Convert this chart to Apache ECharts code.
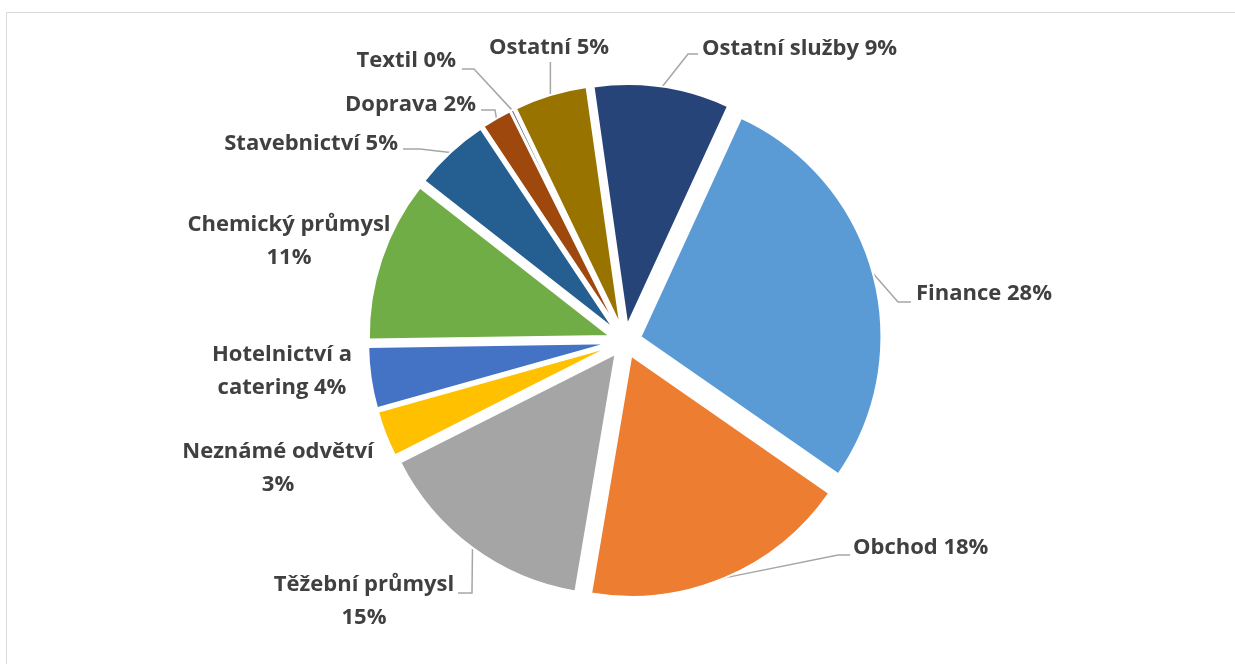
<!DOCTYPE html>
<html><head><meta charset="utf-8">
<script src="https://cdn.jsdelivr.net/npm/echarts@6/dist/echarts.min.js"></script>
<style>html,body{margin:0;padding:0;background:#fff}#c{width:1235px;height:664px}</style>
</head><body><div id="c"></div>
<script>
// ---- data ----
const categories = ['Finance','Obchod','Těžební průmysl','Neznámé odvětví','Hotelnictví a\ncatering','Chemický průmysl','Stavebnictví','Doprava','Textil','Ostatní','Ostatní služby'];
const values = [27.8, 18.0, 14.9, 3.1, 4.1, 10.8, 5.1, 2.0, 0.2, 4.9, 9.1];
const wrapPercent = [false, false, true, true, false, true, false, false, false, false, false];
const colors = ['#5B9BD5','#ED7D31','#A5A5A5','#FFC000','#4472C4','#70AD47','#255E91','#9E480E','#636363','#997300','#264478'];

// ---- label layout (text placement, not data) ----
const EXPLODE = 16;
const LABEL_LAYOUT = [
  {x:916, y:294, align:'left',   line:[[898,302],[911,302]]},
  {x:853, y:548, align:'left',   line:[[838,555],[850,555]]},
  {x:364, y:601, align:'center', line:[[472,593],[458,593]]},
  {x:278, y:468, align:'center', line:null},
  {x:282, y:371, align:'center', line:null},
  {x:289, y:241, align:'center', line:null},
  {x:398, y:144, align:'right',  line:[[420,149],[403,149]]},
  {x:476, y:105, align:'right',  line:[[495,110],[481,110]]},
  {x:456, y:61,  align:'right',  line:[[474,69],[462,69]]},
  {x:549, y:48,  align:'center', line:'vertical', top:62},
  {x:702, y:49,  align:'left',   line:[[688,54],[698,54]]}
];

const pieData = categories.map((c, i) => ({
  name: c, value: values[i], selected: true, itemStyle: {color: colors[i]}
}));
const labelData = categories.map((c, i) => ({
  name: c, value: values[i], labelLine: {show: !!LABEL_LAYOUT[i].line}
}));

const CENTER = [625, 341], RADIUS = 241, START = 65.3;

const chart = echarts.init(document.getElementById('c'), null, {renderer: 'canvas'});
chart.setOption({
  backgroundColor: '#ffffff',
  animation: false,
  graphic: [{
    type: 'rect', silent: true,
    shape: {x: 6.5, y: 12.5, width: 1300, height: 700},
    style: {fill: 'none', stroke: '#d9d9d9', lineWidth: 1}
  }],
  series: [{
    type: 'pie',
    center: CENTER, radius: RADIUS, startAngle: START, clockwise: true,
    selectedMode: 'multiple', selectedOffset: EXPLODE,
    emphasis: {disabled: true},
    itemStyle: {borderWidth: 2, borderColor: '#ffffff'},
    select: {itemStyle: {borderWidth: 2, borderColor: '#ffffff'}},
    label: {show: false}, labelLine: {show: false},
    data: pieData
  }, {
    type: 'pie',
    silent: true,
    center: CENTER, radius: RADIUS, startAngle: START, clockwise: true,
    avoidLabelOverlap: false,
    emphasis: {disabled: true},
    itemStyle: {color: 'rgba(0,0,0,0)'},
    label: {
      show: true, position: 'outside',
      fontFamily: 'Open Sans', fontWeight: 'bold', fontSize: 22, lineHeight: 33,
      color: '#404040',
      formatter: p => p.name + (wrapPercent[p.dataIndex] ? '\n' : ' ') + Math.round(p.percent) + '%'
    },
    labelLine: {show: true, length: 10, length2: 10, lineStyle: {color: '#a6a6a6', width: 1.5}},
    labelLayout: function (p) {
      const L = LABEL_LAYOUT[p.dataIndex];
      const out = {x: L.x, y: L.y, align: L.align, verticalAlign: 'middle'};
      if (L.line && p.labelLinePoints) {
        const a = p.labelLinePoints[0], b = p.labelLinePoints[1];
        const dx = b[0] - a[0], dy = b[1] - a[1];
        const n = Math.hypot(dx, dy) || 1;
        const s = [a[0] + dx / n * EXPLODE, a[1] + dy / n * EXPLODE];
        if (L.line === 'vertical') {
          out.labelLinePoints = [s, [s[0], L.top], [s[0], L.top]];
        } else {
          out.labelLinePoints = [s, L.line[0], L.line[1]];
        }
      }
      return out;
    },
    data: labelData
  }]
});
</script>
</body></html>
